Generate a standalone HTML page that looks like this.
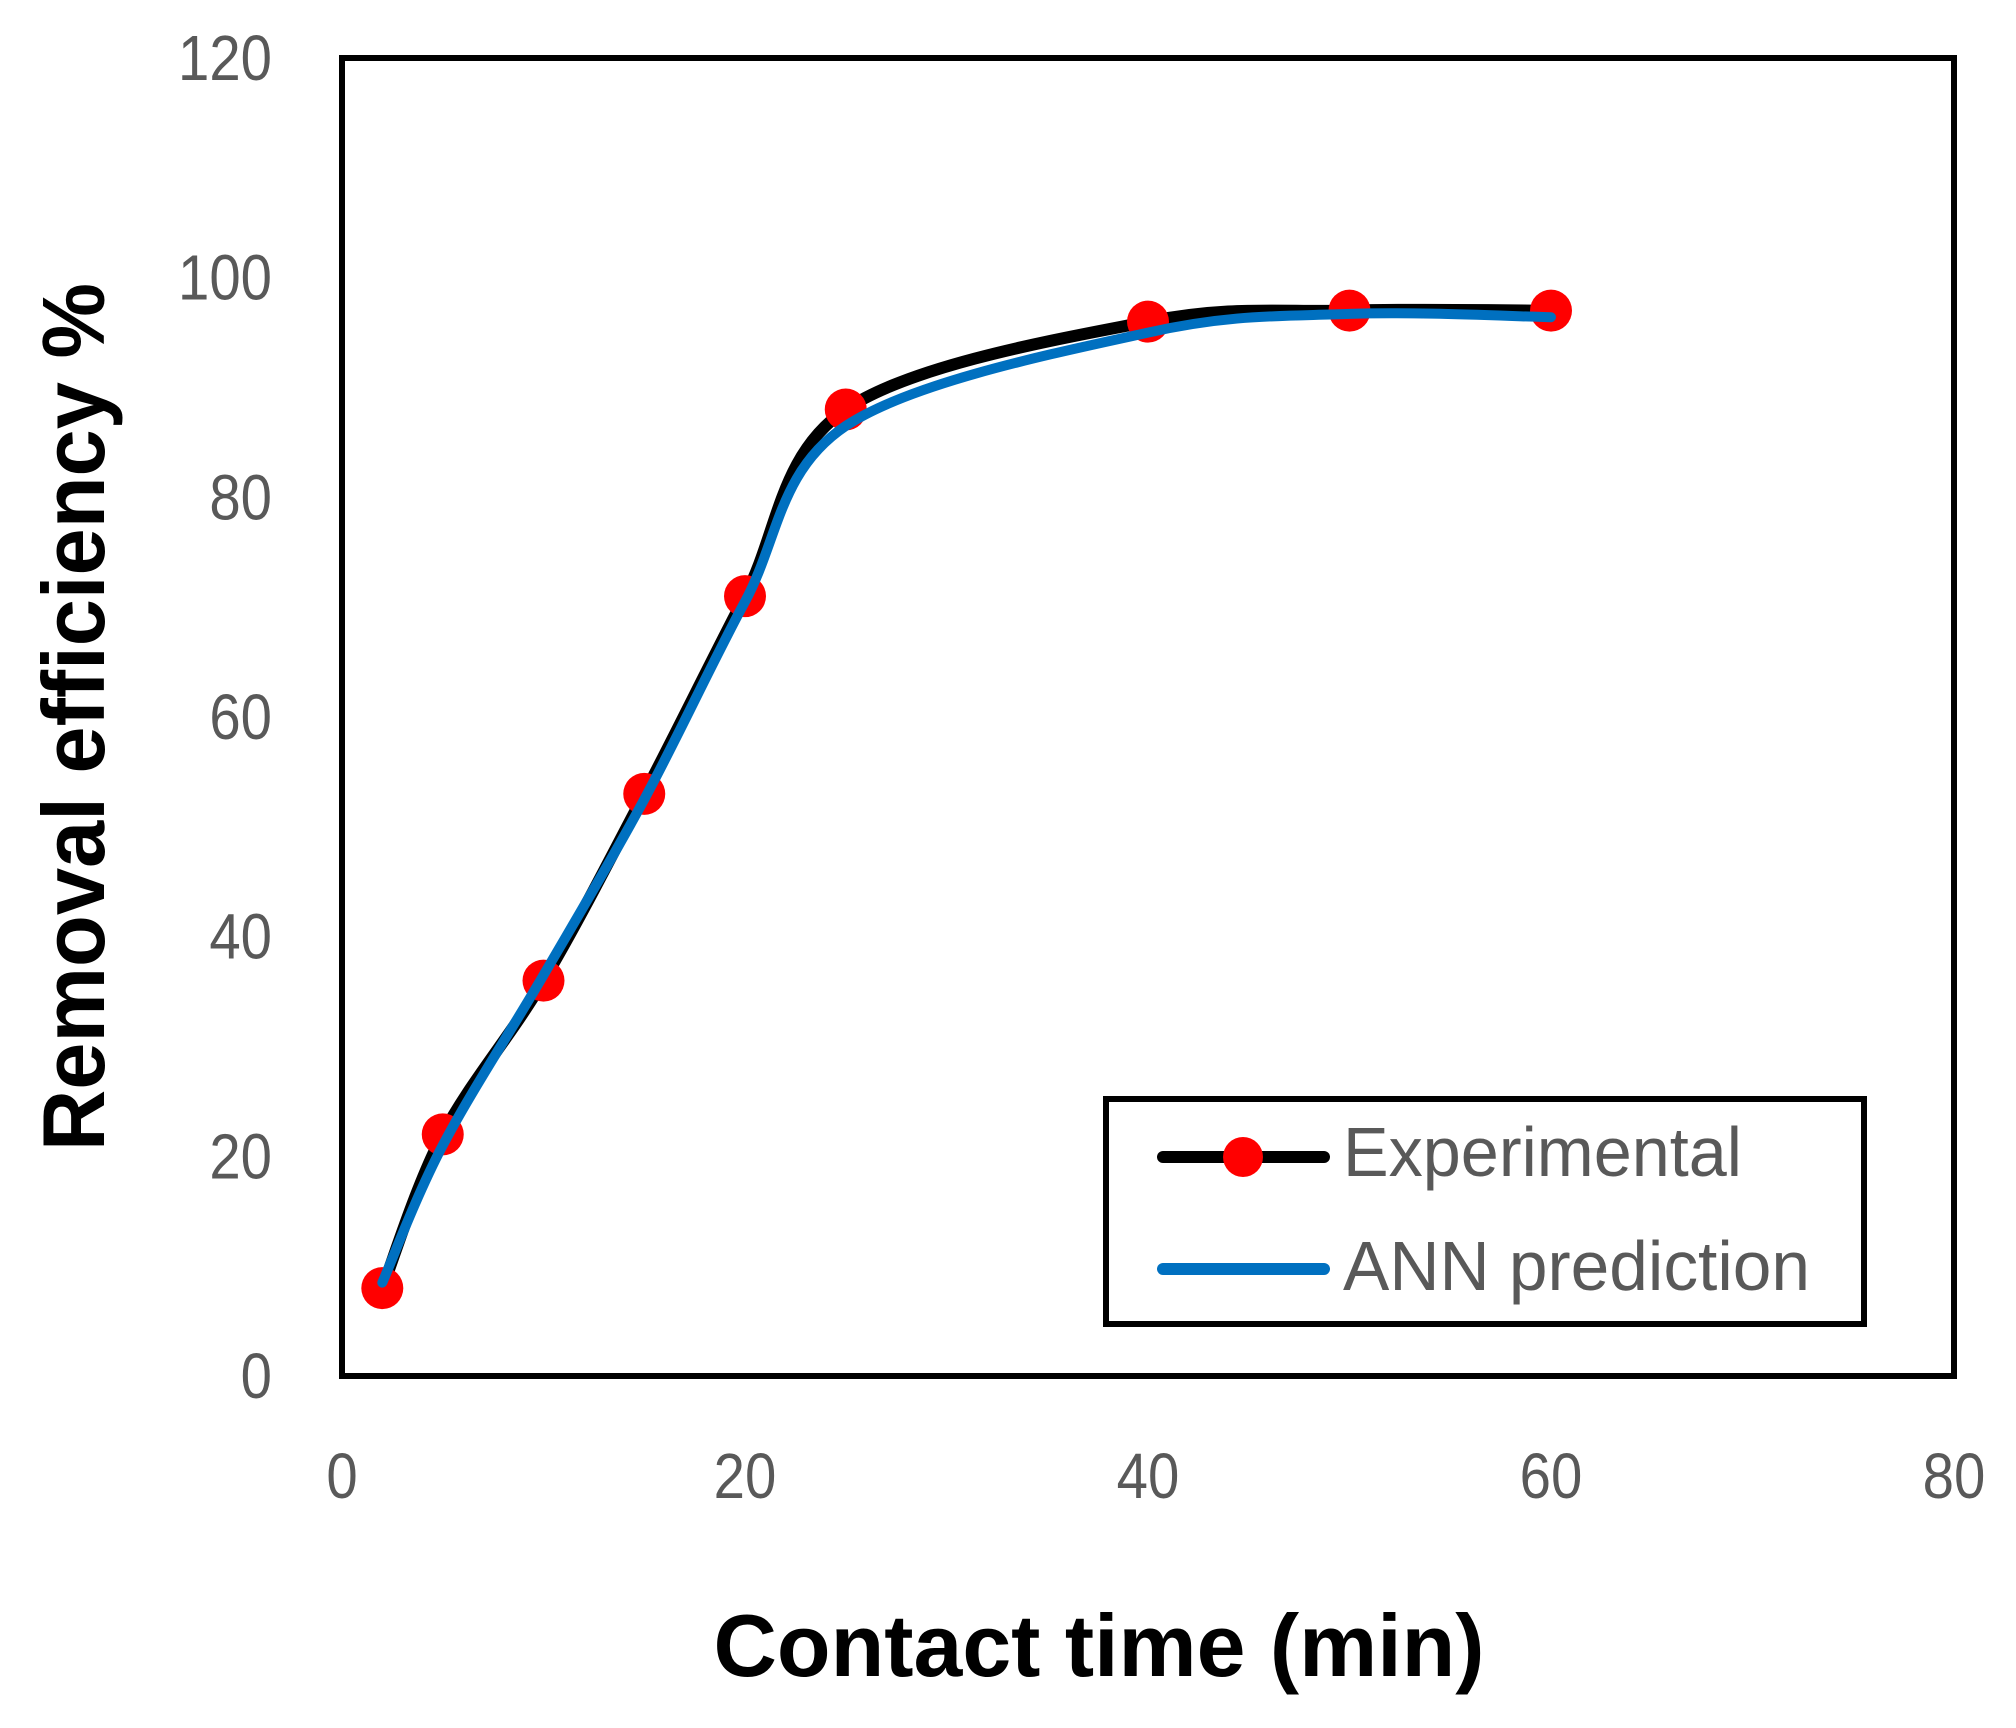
<!DOCTYPE html>
<html><head><meta charset="utf-8"><style>
html,body{margin:0;padding:0;background:#fff;}
svg{display:block;font-family:"Liberation Sans",sans-serif;}
</style></head><body>
<svg id="chart" width="2016" height="1728" viewBox="0 0 2016 1728">
<rect x="342" y="58" width="1612" height="1318" fill="#fff" stroke="#000" stroke-width="6"/>
<g id="yticks"></g>
<g id="xticks"></g>
<g id="series"></g>
<text x="1099" y="1676" text-anchor="middle" font-size="88" font-weight="bold" textLength="771" lengthAdjust="spacingAndGlyphs">Contact time (min)</text>
<text transform="translate(104,717) rotate(-90)" text-anchor="middle" font-size="88" font-weight="bold" textLength="868" lengthAdjust="spacingAndGlyphs">Removal efficiency %</text>
<g>
<rect x="1106" y="1099" width="758" height="225" fill="#fff" stroke="#000" stroke-width="6"/>
<g>
<line x1="1163" y1="1157" x2="1324" y2="1157" stroke="#000" stroke-width="12" stroke-linecap="round"/>
<circle cx="1243" cy="1157" r="20" fill="#f00"/>
<text x="1343" y="1176" font-size="70" fill="#595959" textLength="399" lengthAdjust="spacingAndGlyphs">Experimental</text>
</g>
<g>
<line x1="1163" y1="1269" x2="1324" y2="1269" stroke="#0070c0" stroke-width="12" stroke-linecap="round"/>
<text x="1343" y="1290" font-size="70" fill="#595959" textLength="467" lengthAdjust="spacingAndGlyphs">ANN prediction</text>
</g>
</g>
</svg>
<script>
const xTicks = [0, 20, 40, 60, 80];
const yTicks = [0, 20, 40, 60, 80, 100, 120];
const times = [2, 5, 10, 15, 20, 25, 40, 50, 60];
const experimental = [8, 22, 36, 53, 71, 88, 96, 97, 97];
const annPrediction = [8.5, 21, 36.5, 52.5, 70.5, 86.5, 95, 96.7, 96.4];

const NS = "http://www.w3.org/2000/svg";
function xs(v){ return 342 + (v - 0) / 80 * (1954 - 342); }
function ys(v){ return 1376 - (v - 0) / 120 * (1376 - 58); }
function mk(tag, attrs, parent){
  const e = document.createElementNS(NS, tag);
  for (const k in attrs) e.setAttribute(k, attrs[k]);
  parent.appendChild(e); return e;
}
const yg = document.getElementById('yticks');
yTicks.forEach(v => {
  const t = mk('text', {transform: 'translate(272,' + (ys(v) + 22) + ') scale(0.88,1)', 'text-anchor': 'end', 'font-size': 64, fill: '#595959'}, yg);
  
  
  t.textContent = v;
});
const xg = document.getElementById('xticks');
xTicks.forEach(v => {
  const t = mk('text', {transform: 'translate(' + xs(v) + ',1498) scale(0.88,1)', 'text-anchor': 'middle', 'font-size': 64, fill: '#595959'}, xg);
  
  
  t.textContent = v;
});
function smoothPath(xv, yv){
  const p = xv.map((x, i) => [xs(x), ys(yv[i])]);
  let d = 'M' + p[0][0] + ',' + p[0][1];
  for (let i = 0; i < p.length - 1; i++){
    const p0 = p[i-1] || p[i], p1 = p[i], p2 = p[i+1], p3 = p[i+2] || p2;
    const t = 1/6;
    const c1 = [p1[0] + (p2[0]-p0[0])*t, p1[1] + (p2[1]-p0[1])*t];
    const c2 = [p2[0] - (p3[0]-p1[0])*t, p2[1] - (p3[1]-p1[1])*t];
    d += ' C' + c1 + ' ' + c2 + ' ' + p2;
  }
  return d;
}
const sg = document.getElementById('series');
const expLine = mk('path', {d: smoothPath(times, experimental), fill: 'none', stroke: '#000', 'stroke-width': 12, 'stroke-linecap': 'round', 'stroke-linejoin': 'round'}, sg);


times.forEach((x, i) => {
  const c = mk('circle', {cx: xs(x), cy: ys(experimental[i]), r: 21, fill: '#f00'}, sg);
  
  
});
const annLine = mk('path', {d: smoothPath(times, annPrediction), fill: 'none', stroke: '#0070c0', 'stroke-width': 10, 'stroke-linecap': 'round', 'stroke-linejoin': 'round'}, sg);


</script>
</body></html>
